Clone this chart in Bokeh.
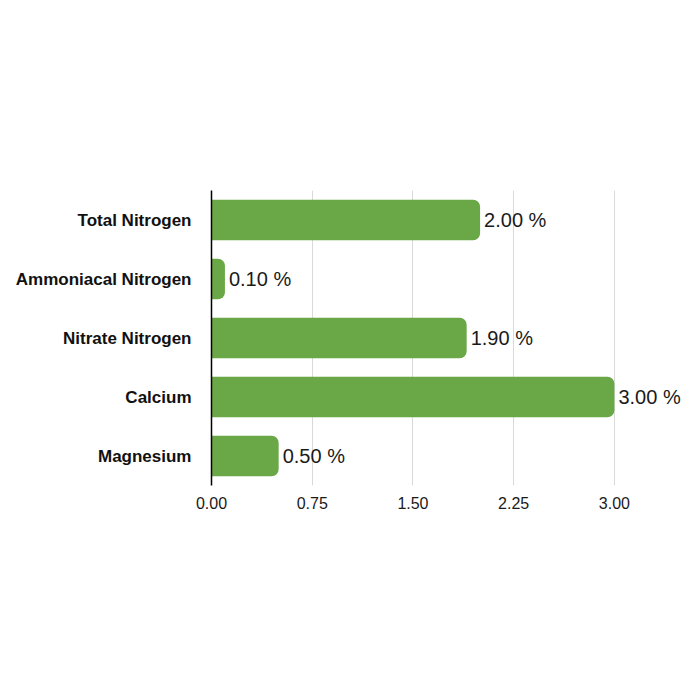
from bokeh.plotting import figure
from bokeh.models import FactorRange, Range1d, FixedTicker, NumeralTickFormatter, ColumnDataSource
from bokeh.core.properties import value
from bokeh.embed import file_html
from bokeh.resources import INLINE

categories = ["Total Nitrogen", "Ammoniacal Nitrogen", "Nitrate Nitrogen", "Calcium", "Magnesium"]
values = [2.00, 0.10, 1.90, 3.00, 0.50]
labels = ["2.00 %", "0.10 %", "1.90 %", "3.00 %", "0.50 %"]
x_ticks = [0, 0.75, 1.5, 2.25, 3.0]

FONT = "Liberation Sans"
GREEN = "#6aa746"

src = ColumnDataSource(dict(cat=categories, val=values, lab=labels))

p = figure(
    y_range=FactorRange(factors=list(reversed(categories))),
    x_range=Range1d(0, 3.522),
    frame_width=473, frame_height=295,
    min_border_left=211, min_border_right=0, min_border_top=190, min_border_bottom=199,
    output_backend="svg", toolbar_location=None,
)
p.outline_line_color = None
p.background_fill_color = "white"

p.hbar(y="cat", right="val", left=0, height=0.69, source=src,
       fill_color=GREEN, line_color=None, border_radius=(0, 7, 7, 0))

p.text(x="val", y="cat", text="lab", source=src, x_offset=4,
       text_baseline="middle", text_align="left",
       text_font=value(FONT), text_font_size="20px", text_color="#1a1a1a")

# axes
p.xaxis.ticker = FixedTicker(ticks=x_ticks)
p.xaxis.formatter = NumeralTickFormatter(format="0.00")
p.xaxis.axis_line_color = None
p.xaxis.major_tick_line_color = None
p.xaxis.minor_tick_line_color = None
p.xaxis.major_label_text_font = FONT
p.xaxis.major_label_text_font_size = "16px"
p.xaxis.major_label_text_color = "#1a1a1a"
p.xaxis.major_label_standoff = 5

p.yaxis.axis_line_color = "black"
p.yaxis.axis_line_width = 1.5
p.yaxis.major_tick_line_color = None
p.yaxis.minor_tick_line_color = None
p.yaxis.major_label_text_font = FONT
p.yaxis.major_label_text_font_style = "bold"
p.yaxis.major_label_text_font_size = "17px"
p.yaxis.major_label_text_color = "#111111"
p.yaxis.major_label_standoff = 14

p.xgrid.ticker = FixedTicker(ticks=x_ticks)
p.xgrid.grid_line_color = "#d9d9d9"
p.xgrid.grid_line_width = 1
p.ygrid.grid_line_color = None

open("out.html", "w").write(file_html(p, INLINE))
